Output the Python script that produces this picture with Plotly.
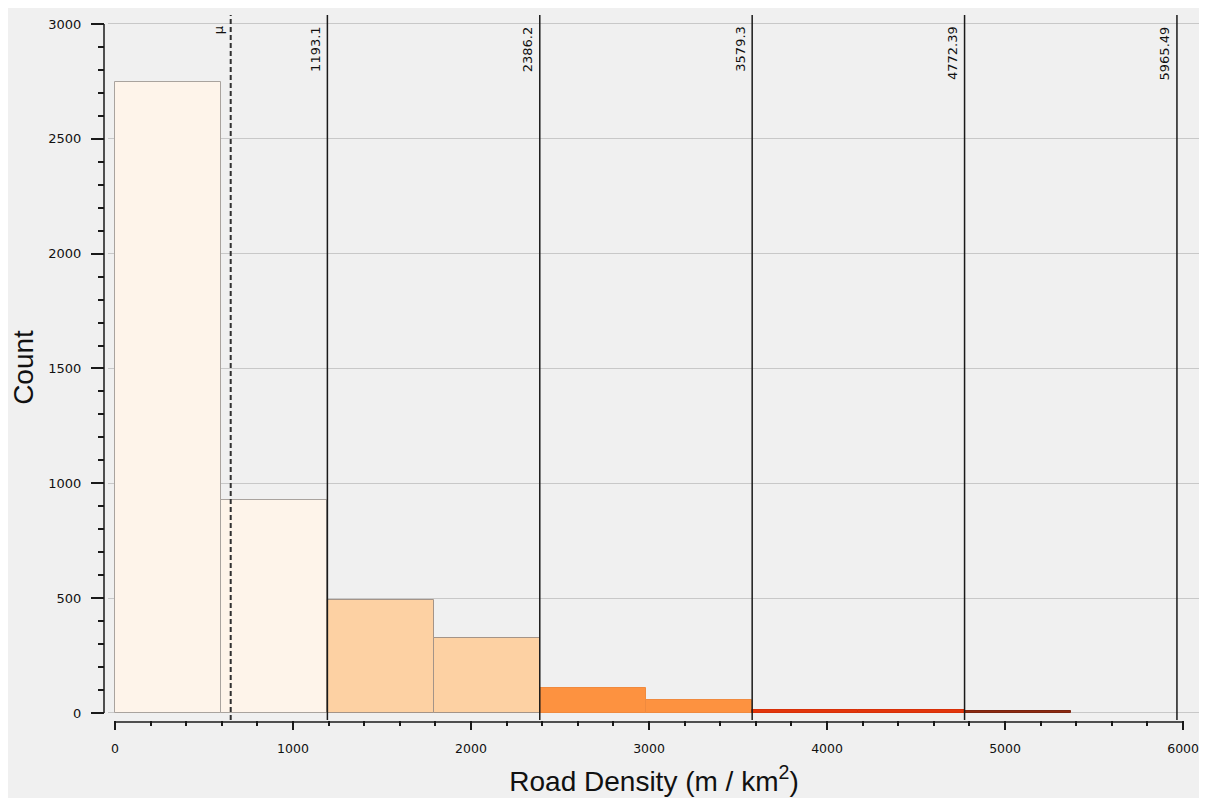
import plotly.graph_objects as go

# ---- data ----
bin_width = 596.549
bin_starts = [0.0, 596.549, 1193.098, 1789.647, 2386.196, 2982.745, 3579.294, 4175.843, 4772.392]
counts = [2748, 926, 491, 325, 108, 55, 13, 13, 8]
bar_fill = ["#fef4ea", "#fef4ea", "#fdd1a3", "#fdd1a3", "#fd9240", "#fd9240", "#e2360c", "#e2360c", "#8e2a10"]
bar_edge = ["#a9a39e", "#a9a39e", "#a49488", "#a49488", "#f08a3e", "#f08a3e", "#d83008", "#d83008", "#7a2410"]
break_values = [1193.1, 2386.2, 3579.3, 4772.39, 5965.49]
break_labels = ["1193.1", "2386.2", "3579.3", "4772.39", "5965.49"]
mean_value = 650
mean_label = "μ"
x_tick_vals = [0, 1000, 2000, 3000, 4000, 5000, 6000]
y_tick_vals = [0, 500, 1000, 1500, 2000, 2500, 3000]

centers = [s + bin_width / 2 for s in bin_starts]

fig = go.Figure()
fig.add_trace(go.Bar(
    x=centers, y=counts, width=[bin_width] * len(counts),
    marker=dict(color=bar_fill, line=dict(color=bar_edge, width=1)),
    hoverinfo="x+y", showlegend=False,
))

PLOT_H = 705
shapes = []
# break lines
for v in break_values:
    shapes.append(dict(type="line", xref="x", yref="paper", x0=v, x1=v, y0=0, y1=1,
                       line=dict(color="#1a1a1a", width=1.5), layer="above"))
# mean line
shapes.append(dict(type="line", xref="x", yref="paper", x0=mean_value, x1=mean_value, y0=0, y1=1,
                   line=dict(color="#303030", width=2, dash="5px,3px"), layer="above"))
# y axis line (0..3000)
shapes.append(dict(type="line", xref="paper", yref="y", x0=0, x1=0, y0=0, y1=3000,
                   line=dict(color="#1a1a1a", width=1.5), layer="above"))
# x axis line (0..6000)
shapes.append(dict(type="line", xref="x", yref="paper", x0=0, x1=6000, y0=-2 / PLOT_H, y1=-2 / PLOT_H,
                   line=dict(color="#1a1a1a", width=1.5), layer="above"))

annotations = []
for v, lab in zip(break_values, break_labels):
    annotations.append(dict(x=v, y=1, xref="x", yref="paper", text=lab, showarrow=False,
                            textangle=-90, xanchor="right", yanchor="top", xshift=-3, yshift=-9,
                            font=dict(family="DejaVu Sans", size=13, color="#111111")))
annotations.append(dict(x=mean_value, y=1, xref="x", yref="paper", text=mean_label, showarrow=False,
                        textangle=-90, xanchor="right", yanchor="top", xshift=-3, yshift=-9,
                        font=dict(family="DejaVu Sans", size=13, color="#111111")))

fig.update_layout(
    width=1199, height=790,
    margin=dict(l=96, r=7, t=7, b=78),
    paper_bgcolor="#f0f0f0", plot_bgcolor="#f0f0f0",
    bargap=0,
    shapes=shapes, annotations=annotations,
    xaxis=dict(
        domain=[4 / 1096, 1], range=[-39.3, 6095], automargin=False,
        tickmode="array", tickvals=x_tick_vals,
        ticks="outside", ticklen=9, tickwidth=1.5, tickcolor="#1a1a1a",
        minor=dict(dtick=200, tick0=0, ticks="outside", ticklen=5, tickwidth=1.5, tickcolor="#1a1a1a", showgrid=False),
        showgrid=False, zeroline=False, showline=False,
        tickfont=dict(family="DejaVu Sans", size=12.5, color="#111111"),
        ticklabelstandoff=8, ticklabeloverflow="allow",
        title=dict(text="Road Density (m / km<sup>2</sup>)", standoff=16,
                   font=dict(family="Liberation Sans, Arial", size=28, color="#111111")),
    ),
    yaxis=dict(
        anchor="free", position=0, range=[-30.5, 3039], automargin=False,
        tickmode="array", tickvals=y_tick_vals,
        ticks="outside", ticklen=13, tickwidth=1.5, tickcolor="#1a1a1a",
        minor=dict(dtick=100, tick0=0, ticks="outside", ticklen=6, tickwidth=1.5, tickcolor="#1a1a1a", showgrid=False),
        showgrid=True, gridcolor="#c8c8c8", gridwidth=1,
        zeroline=False, showline=False,
        tickfont=dict(family="DejaVu Sans", size=13, color="#111111"),
        ticklabelstandoff=7, ticklabeloverflow="allow",
        title=dict(text="Count", standoff=12,
                   font=dict(family="Liberation Sans, Arial", size=28, color="#111111")),
    ),
)

fig.write_html(
    "out.html",
    post_script="document.documentElement.style.overflow='hidden';document.body.style.overflow='hidden';",
)
